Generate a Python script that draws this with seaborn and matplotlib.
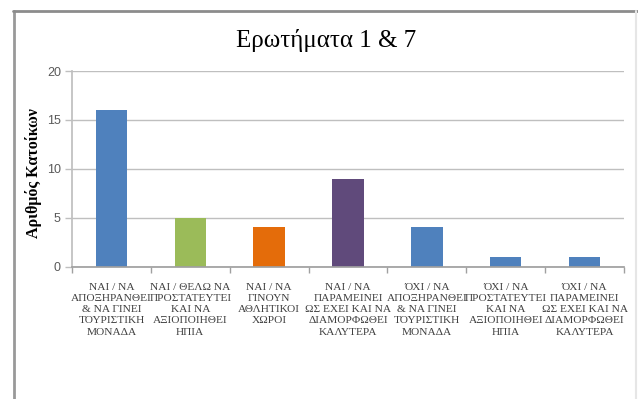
import matplotlib
matplotlib.use("Agg")
import matplotlib.pyplot as plt
import seaborn as sns
import pandas as pd
from matplotlib.lines import Line2D
from matplotlib.ticker import FixedLocator

categories = [
    "ΝΑΙ / ΝΑ\nΑΠΟΞΗΡΑΝΘΕΙ\n& ΝΑ ΓΙΝΕΙ\nΤΟΥΡΙΣΤΙΚΗ\nΜΟΝΑΔΑ",
    "ΝΑΙ / ΘΕΛΩ ΝΑ\nΠΡΟΣΤΑΤΕΥΤΕΙ\nΚΑΙ ΝΑ\nΑΞΙΟΠΟΙΗΘΕΙ\nΗΠΙΑ",
    "ΝΑΙ / ΝΑ\nΓΙΝΟΥΝ\nΑΘΛΗΤΙΚΟΙ\nΧΩΡΟΙ",
    "ΝΑΙ / ΝΑ\nΠΑΡΑΜΕΙΝΕΙ\nΩΣ ΕΧΕΙ ΚΑΙ ΝΑ\nΔΙΑΜΟΡΦΩΘΕΙ\nΚΑΛΥΤΕΡΑ",
    "ΌΧΙ / ΝΑ\nΑΠΟΞΗΡΑΝΘΕΙ\n& ΝΑ ΓΙΝΕΙ\nΤΟΥΡΙΣΤΙΚΗ\nΜΟΝΑΔΑ",
    "ΌΧΙ / ΝΑ\nΠΡΟΣΤΑΤΕΥΤΕΙ\nΚΑΙ ΝΑ\nΑΞΙΟΠΟΙΗΘΕΙ\nΗΠΙΑ",
    "ΌΧΙ / ΝΑ\nΠΑΡΑΜΕΙΝΕΙ\nΩΣ ΕΧΕΙ ΚΑΙ ΝΑ\nΔΙΑΜΟΡΦΩΘΕΙ\nΚΑΛΥΤΕΡΑ",
]
values = [16, 5, 4, 9, 4, 1, 1]
colors = ["#4F81BD", "#9BBB59", "#E46C0A", "#604A7B", "#4F81BD", "#4F81BD", "#4F81BD"]
y_ticks = [0, 5, 10, 15, 20]
title = "Ερωτήματα 1 & 7"
y_label = "Αριθμός Κατοίκων"

sns.set_theme(style="white")
plt.rcParams["font.family"] = ["Liberation Serif", "DejaVu Serif"]

df = pd.DataFrame({"cat": categories, "val": values})

fig = plt.figure(figsize=(6.38, 3.99), dpi=100)
ax = fig.add_axes([72/638, 1-266.5/399, (624-72)/638, (266.5-71)/399])

sns.barplot(data=df, x="cat", y="val", hue="cat", palette=colors, legend=False,
            width=0.4, saturation=1, ax=ax, edgecolor="none")

ax.set_ylim(0, 20)
ax.set_xlim(-0.5, len(categories) - 0.5)
ax.set_yticks(y_ticks)
ax.yaxis.grid(True, color="#BFBFBF", linewidth=1)
ax.set_axisbelow(True)
for s in ["top", "right"]:
    ax.spines[s].set_visible(False)
ax.spines["left"].set_color("#BFBFBF")
ax.spines["bottom"].set_color("#A0A0A0")

ax.tick_params(axis="y", which="major", length=5, width=1, color="#BFBFBF",
               labelsize=9, labelcolor="#595959", pad=3, left=True)
for lab in ax.get_yticklabels():
    lab.set_family(["Liberation Sans", "DejaVu Sans"])

ax.set_xticks(range(len(categories)))
ax.set_xticklabels(categories, fontsize=8.2, color="#404040")
ax.tick_params(axis="x", which="major", length=0, pad=12)
ax.xaxis.set_minor_locator(FixedLocator([i - 0.5 for i in range(len(categories) + 1)]))
ax.tick_params(axis="x", which="minor", length=4, width=1, color="#A0A0A0", bottom=True)
for lab in ax.get_xticklabels():
    lab.set_linespacing(1.3)

ax.set_xlabel("")
ax.set_ylabel("")
fig.text(33/638, 1-173/399, y_label, rotation=90, ha="center", va="center",
         fontsize=11.5, fontweight="bold", color="#000000")
fig.text(326/638, 1-40/399, title, ha="center", va="center", fontsize=18, color="#000000")

# outer frame lines
fig.add_artist(Line2D([13.5/638, 13.5/638], [0, 1-11/399], transform=fig.transFigure,
                      color="#999999", linewidth=2))
fig.add_artist(Line2D([13/638, 1], [1-11/399, 1-11/399], transform=fig.transFigure,
                      color="#8C8C8C", linewidth=2))
fig.add_artist(Line2D([636/638, 636/638], [0, 1-11/399], transform=fig.transFigure,
                      color="#E6E6E6", linewidth=1.5))

fig.savefig("out.png", dpi=100)
